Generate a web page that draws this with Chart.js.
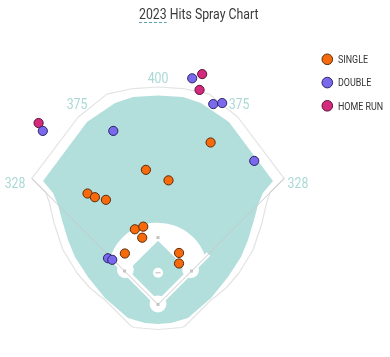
<!DOCTYPE html>
<html><head><meta charset="utf-8">
<script src="https://cdn.jsdelivr.net/npm/chart.js@4.4.1/dist/chart.umd.min.js"></script>
<style>html,body{margin:0;padding:0;background:#fff;}canvas{display:block;}</style>
</head><body>
<canvas id="c" width="390" height="357"></canvas>
<script>
// ---- data (feet from home plate: x toward right field, y toward center field) ----
const chartTitle = '2023 Hits Spray Chart';
const seriesNames = ['SINGLE', 'DOUBLE', 'HOME RUN'];
const singleX = [100, -23, 20, -134, -120, -99, -44, -28, -30, -63, 40, 40];
const singleY = [308, 256, 236, 211, 204, 199, 143, 148, 127, 97, 98, 78];
const doubleX = [-85, -219, 65, 105, 122, 183, -95, -87];
const doubleY = [330, 330, 430, 381, 383, 273, 88, 85];
const homeRunX = [-227, 84, 79];
const homeRunY = [345, 438, 408];
const fenceDistances = ['328', '375', '400', '375', '328'];

// ---- styles ----
const seriesColors = ['#f76a0c', '#7a69ec', '#d42a7e'];
const seriesBorders = ['#5a2a08', '#2c2566', '#5a1034'];
const GRASS = '#b2dfdb';
const LABEL = '#a9d9d5';

// ---- stadium geometry (feet) ----
const FIELD = {
  wallLeft: [[-240, 239.5], [-152, 356], [-97, 400], [-47.5, 410.6], [0, 413.5]],
  standsLeft: [[-212.9, 212.9], [-205.3, 189.1], [-197.7, 154.9], [-180.6, 103.6], [-154, 59.9],
               [-129.3, 31.4], [-108.4, 14.3], [-102.7, 10.5], [-51.3, -40.9], [-45.6, -43.7], [0, -47.5]],
  grassTopLeft: [[-218.6, 234.8], [-135, 346.9], [-81.7, 383.1], [-47.5, 394.5], [0, 397.3]],
  grassBottomLeft: [[-218.6, 234.8], [-199.6, 212], [-190.1, 189.1], [-182.5, 160.6], [-171.1, 122.6],
                    [-157.8, 90.3], [-133.1, 52.3], [-100.8, 12.4], [-57, -25.7], [-24.7, -35.2], [0, -37.1]],
  labelPos: [[-271.8, 231], [-154, 381.2], [0, 430.6], [154, 381.2], [266.1, 231]]
};

function pts(xs, ys) { return xs.map((v, i) => ({ x: v, y: ys[i] })); }

function condText(ctx, str, x, y, size, color, sx, align) {
  ctx.save();
  ctx.font = size + 'px Roboto, "Noto Sans", sans-serif';
  ctx.fillStyle = color;
  ctx.textBaseline = 'alphabetic';
  ctx.textAlign = align || 'left';
  ctx.translate(x, y);
  ctx.scale(sx, 1);
  ctx.fillText(str, 0, 0);
  ctx.restore();
}

const fieldPlugin = {
  id: 'field',
  beforeDatasetsDraw(chart) {
    const ctx = chart.ctx, sx = chart.scales.x, sy = chart.scales.y;
    const P = (p) => [sx.getPixelForValue(p[0]), sy.getPixelForValue(p[1])];
    const neg = (arr) => arr.map(p => [-p[0], p[1]]);
    const rev = (arr) => arr.slice().reverse();
    const trace = (list, close) => {
      ctx.beginPath();
      list.forEach((p, i) => { const q = P(p); i ? ctx.lineTo(q[0], q[1]) : ctx.moveTo(q[0], q[1]); });
      if (close) ctx.closePath();
    };
    const circle = (c, r, fill) => {
      const q = P(c);
      const rp = Math.abs(sx.getPixelForValue(r) - sx.getPixelForValue(0));
      ctx.beginPath(); ctx.arc(q[0], q[1], rp, 0, Math.PI * 2); ctx.fillStyle = fill; ctx.fill();
    };
    ctx.save();
    ctx.lineJoin = 'round';

    // outer wall / stands outline
    const wallL = FIELD.wallLeft, standL = FIELD.standsLeft;
    const outlineFull = [].concat(rev(standL), wallL, rev(neg(wallL)).slice(1), neg(standL));
    trace(outlineFull, true);
    ctx.strokeStyle = '#e3e3e3'; ctx.lineWidth = 1.2; ctx.stroke();

    // grass
    const gT = FIELD.grassTopLeft, gB = FIELD.grassBottomLeft;
    const grass = [].concat(gT, rev(neg(gT)).slice(1), neg(gB).slice(1), rev(gB).slice(1, -1));
    trace(grass, true);
    ctx.fillStyle = GRASS; ctx.fill();

    // infield dirt (circle of 95 ft around the rubber, inside the foul lines)
    const mound = P([0, 60.5]);
    const rr = Math.abs(sx.getPixelForValue(95) - sx.getPixelForValue(0));
    const home = P([0, 0]);
    const L = P([-90.2, 90.2]), R = P([90.2, 90.2]);
    const aL = Math.atan2(L[1] - mound[1], L[0] - mound[0]);
    const aR = Math.atan2(R[1] - mound[1], R[0] - mound[0]);
    ctx.beginPath();
    ctx.moveTo(home[0], home[1]);
    ctx.lineTo(L[0], L[1]);
    ctx.arc(mound[0], mound[1], rr, aL, aR, false);
    ctx.closePath();
    ctx.fillStyle = '#ffffff'; ctx.fill();

    // base path strips
    ctx.strokeStyle = '#ffffff'; ctx.lineWidth = 5; ctx.lineCap = 'butt';
    trace([[-96, 96], [0, 0], [96, 96]], false); ctx.stroke();

    // infield grass square
    trace([[-56.5, 65], [0, 121], [56.5, 65], [0, 8.5]], true);
    ctx.fillStyle = GRASS; ctx.fill();

    // base cut-outs, home plate circle, mound
    circle([-62, 66], 16, '#ffffff');
    circle([62, 66], 16, '#ffffff');
    circle([0, 1], 16, '#ffffff');
    circle([0, 60.5], 9.5, '#ffffff');

    // foul lines
    ctx.strokeStyle = '#c9c9c9'; ctx.lineWidth = 1;
    trace([[-240, 239.5], [0, 0], [240, 239.5]], false); ctx.stroke();

    // bases and rubber
    ctx.fillStyle = '#c4c4c4';
    [[63.64, 63.64], [0, 127.3], [-63.64, 63.64], [0, 0]].forEach(b => {
      const q = P(b); ctx.fillRect(q[0] - 1.5, q[1] - 1.5, 3, 3);
    });
    ctx.fillRect(mound[0] - 2.5, mound[1] - 0.5, 5, 1.2);

    // fence distance labels
    FIELD.labelPos.forEach((p, i) => {
      const q = P(p);
      condText(ctx, fenceDistances[i], q[0], q[1] + 5.4, 15, LABEL, 0.82, 'center');
    });
    ctx.restore();
  },
  afterDraw(chart) {
    const ctx = chart.ctx;
    // title
    condText(ctx, chartTitle, 139, 19, 15, '#3a3a3a', 0.82, 'left');
    ctx.save();
    ctx.font = '15px Roboto, "Noto Sans", sans-serif';
    const w = ctx.measureText(chartTitle.split(' ')[0]).width * 0.82;
    ctx.strokeStyle = '#5aa3b3'; ctx.lineWidth = 1; ctx.setLineDash([3, 2]);
    ctx.beginPath(); ctx.moveTo(139, 22.5); ctx.lineTo(139 + w, 22.5); ctx.stroke();
    ctx.restore();
    // legend
    const ys = [59.3, 82.6, 105.8];
    seriesNames.forEach((name, i) => {
      ctx.save();
      ctx.beginPath(); ctx.arc(327.3, ys[i], 5.3, 0, Math.PI * 2);
      ctx.fillStyle = seriesColors[i]; ctx.fill();
      ctx.lineWidth = 1; ctx.strokeStyle = seriesBorders[i]; ctx.stroke();
      ctx.restore();
      condText(ctx, name, 338, ys[i] + 3.8, 10.5, '#333333', 0.85, 'left');
    });
  }
};

const mkSet = (label, data, i) => ({
  label, data,
  backgroundColor: seriesColors[i], borderColor: seriesBorders[i],
  borderWidth: 1, pointRadius: 4.6, pointHoverRadius: 4.6
});

new Chart(document.getElementById('c'), {
  type: 'scatter',
  data: {
    datasets: [
      mkSet(seriesNames[0], pts(singleX, singleY), 0),
      mkSet(seriesNames[1], pts(doubleX, doubleY), 1),
      mkSet(seriesNames[2], pts(homeRunX, homeRunY), 2)
    ]
  },
  options: {
    responsive: false,
    devicePixelRatio: 1,
    animation: false,
    events: [],
    layout: { padding: 0, autoPadding: false },
    scales: {
      x: { type: 'linear', min: -300.4, max: 441.1, display: false },
      y: { type: 'linear', min: -99.8, max: 578.9, display: false }
    },
    plugins: { legend: { display: false }, title: { display: false }, tooltip: { enabled: false } }
  },
  plugins: [fieldPlugin]
});
</script>
</body></html>
